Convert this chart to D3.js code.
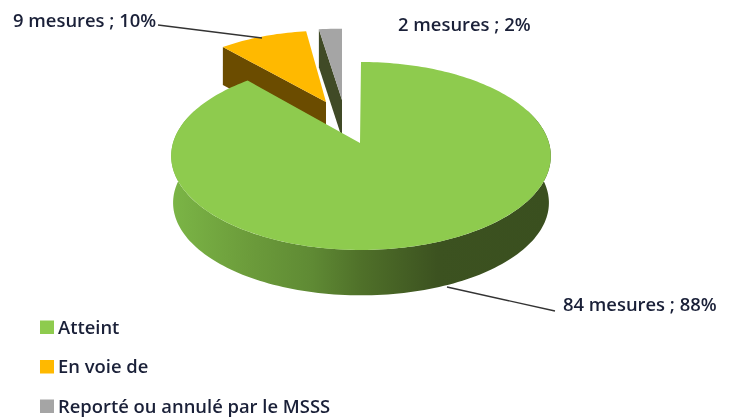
<!DOCTYPE html>
<html><head><meta charset="utf-8">
<script src="https://cdnjs.cloudflare.com/ajax/libs/d3/7.8.5/d3.min.js"></script>
<style>html,body{margin:0;background:#fff}svg{display:block;filter:blur(0.45px)}text{font-family:"Open Sans",sans-serif;font-weight:600;fill:#1a2038}</style>
</head><body><svg id="c" width="733" height="417"></svg>
<script>
const categories = ["Atteint", "En voie de", "Reporté ou annulé par le MSSS"];
const measures = [84, 9, 2];
const percents = [88, 10, 2];
const colors = ["#8ecb4e", "#ffb900", "#a5a5a5"];
const wallColors = ["#3c5220", "#6b4c00", "#404a26"];

const svg = d3.select("#c");
const pie = d3.pie().sort(null)(measures);
const K = 0.138, A = 188, B = 92.2, DEPTH = 47;
const place = [
  {x: 361, y: 143, sx: 1, s: 1},
  {x: 326, y: 102, sx: 0.91, s: 0.88, d: 38},
  {x: 342, y: 100, sx: 1.06, s: 0.88, d: 38}
];
function proj(t, p, sx, s, dy) {
  const u = Math.sin(t), v = -Math.cos(t), w = 1 - K * v;
  return [p.x + sx * A * u / w, p.y + dy + s * B * v / w];
}
function rim(a, b, p, sx, s, dy) {
  const n = Math.max(2, Math.ceil((b - a) * 40));
  return d3.range(n + 1).map(i => proj(a + (b - a) * i / n, p, sx, s, dy));
}
const line = d3.line();

// gradient on the green outer wall
const defs = svg.append("defs");
const g = defs.append("linearGradient").attr("id", "wall").attr("gradientUnits", "userSpaceOnUse")
  .attr("x1", 172).attr("x2", 551).attr("y1", 0).attr("y2", 0);
[[0, "#7bb546"], [0.2, "#6c9c3b"], [0.37, "#5f8a34"], [0.5, "#4f7029"], [0.7, "#3c5220"], [1, "#3a4f1f"]]
  .forEach(([o, c]) => g.append("stop").attr("offset", o).attr("stop-color", c));

// exploded slices first (behind the big one)
[1, 2].forEach(i => {
  const d = pie[i], p = place[i];
  const outer = proj(d.startAngle, p, p.sx, p.s, 0);
  const tip = [p.x, p.y];
  svg.append("path").attr("d", line([outer, tip, [tip[0], tip[1] + p.d], [outer[0], outer[1] + p.d]]) + "Z")
    .attr("fill", wallColors[i]);
  svg.append("path").attr("d", line([tip, ...rim(d.startAngle, d.endAngle, p, p.sx, p.s, 0)]) + "Z")
    .attr("fill", colors[i]);
});

// big slice
{
  const d = pie[0], p = place[0];
  const lo = Math.PI * 0.38, hi = Math.PI * 1.62;
  const top = rim(lo, hi, p, 1, 1, 0);
  const bottom = rim(lo, hi, p, 0.99, 0.985, DEPTH).reverse();
  svg.append("path").attr("d", line([...top, ...bottom]) + "Z").attr("fill", "url(#wall)");
  svg.append("path").attr("d", line([[p.x - 1, p.y], ...rim(d.startAngle, d.endAngle, p, 1, 1, 0)]) + "Z")
    .attr("fill", colors[0]);
}

// leader lines
const leaders = [[[447, 287], [555, 311]], [[158, 25], [262, 38]]];
leaders.forEach(l => svg.append("path").attr("d", line(l)).attr("fill", "none").attr("stroke", "#333").attr("stroke-width", 1.4));

// labels
const labelPos = [[563, 311], [13, 27], [398, 31]];
measures.forEach((m, i) => svg.append("text").attr("x", labelPos[i][0]).attr("y", labelPos[i][1])
  .attr("font-size", 18.4).text(`${m} mesures ; ${percents[i]}%`));

// legend
const legendY = d3.scalePoint().domain(categories).range([327, 406]);
categories.forEach((c, i) => {
  svg.append("rect").attr("x", 40).attr("y", legendY(c) - 6.5).attr("width", 14).attr("height", 13.5).attr("fill", colors[i]);
  svg.append("text").attr("x", 58).attr("y", legendY(c) + 6.5).attr("font-size", 18.4).text(c);
});
</script></body></html>
